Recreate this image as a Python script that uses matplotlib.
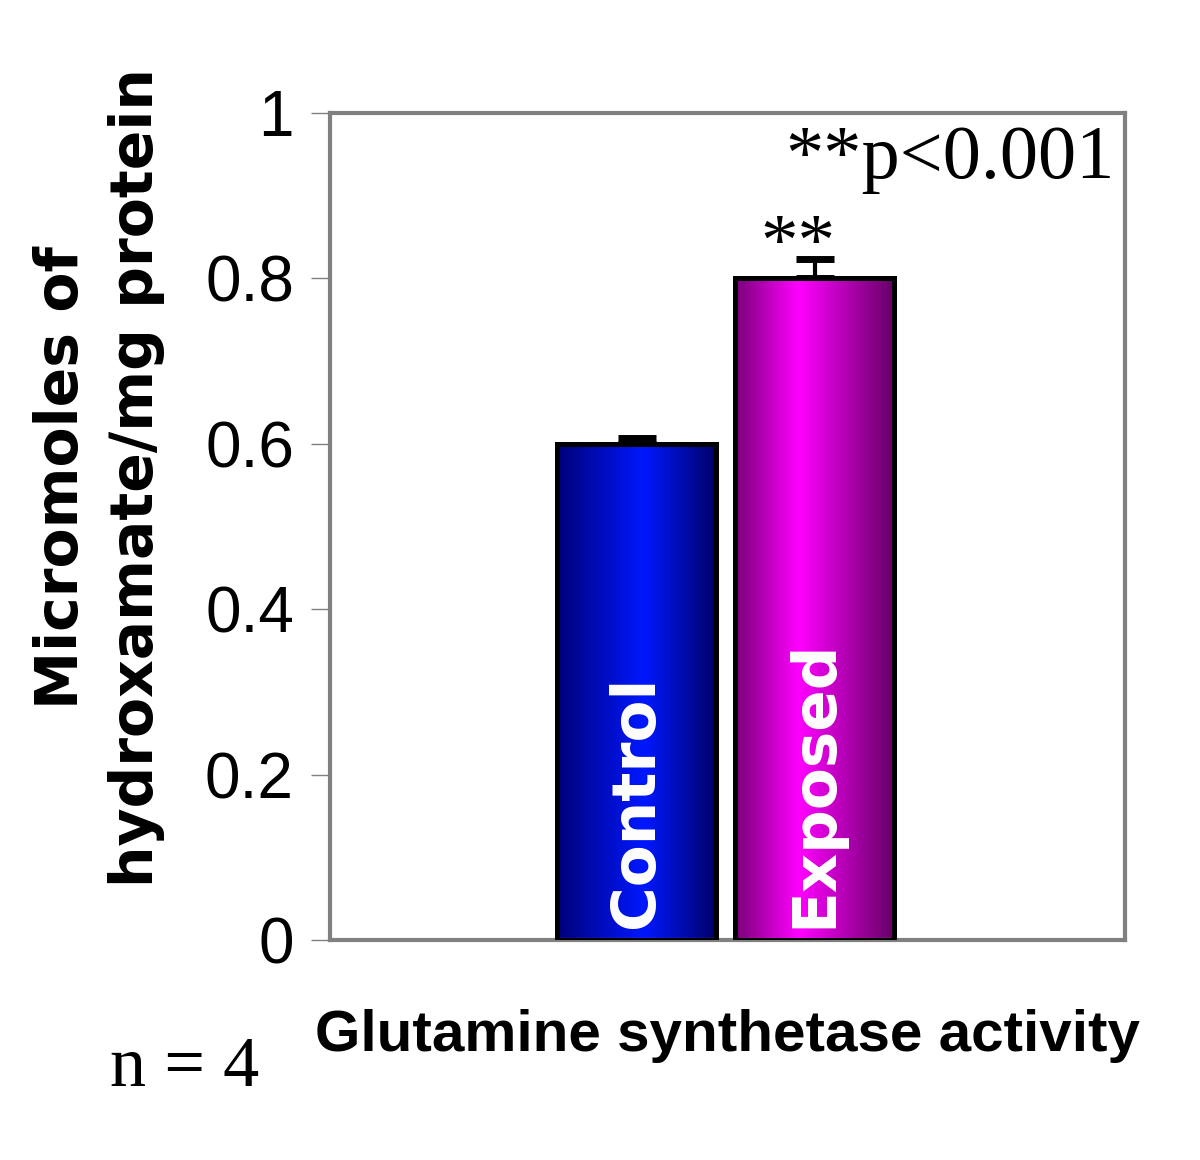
import numpy as np
import matplotlib
matplotlib.use('Agg')
import matplotlib.pyplot as plt
from matplotlib.colors import LinearSegmentedColormap

groups = ['Control', 'Exposed']
values = [0.60, 0.80]
errors = [0.007, 0.024]
yticks = [0, 0.2, 0.4, 0.6, 0.8, 1]
ytick_labels = ['0', '0.2', '0.4', '0.6', '0.8', '1']

sans = ['Liberation Sans', 'DejaVu Sans']
wide = ['DejaVu Sans']
serif = ['Liberation Serif', 'DejaVu Serif']

fig = plt.figure(figsize=(12, 11.6), dpi=100)
ax = fig.add_axes([0.275, 0.1897, 0.6625, 0.7129])

x = [0, 1.12]
bars = ax.bar(x, values, width=1.0, edgecolor='black', linewidth=3.6,
              facecolor='none', zorder=3)
ax.errorbar(x, values, yerr=[[0, 0], errors], fmt='none', ecolor='black',
            elinewidth=3, capsize=14, capthick=5, zorder=2)

# horizontal shading inside each bar
cmaps = [
    LinearSegmentedColormap.from_list('c', [(0, '#000078'), (0.55, '#0018ff'), (1, '#000068')]),
    LinearSegmentedColormap.from_list('e', [(0, '#780078'), (0.4, '#ff00ff'), (1, '#660066')]),
]
grad = np.linspace(0, 1, 256).reshape(1, -1)
for bar, cm in zip(bars, cmaps):
    x0, y0 = bar.get_x(), bar.get_y()
    w, h = bar.get_width(), bar.get_height()
    im = ax.imshow(grad, cmap=cm, extent=[x0, x0 + w, y0, y0 + h],
                   aspect='auto', zorder=2.5)
    im.set_clip_path(bar)

for xi, g in zip(x, groups):
    ax.text(xi, 0.014, g, rotation=90, ha='center', va='bottom', color='white',
            fontsize=44, fontweight='bold', family=wide, zorder=4)

ax.set_xlim(-1.93, 3.07)
ax.set_ylim(0, 1)
ax.set_xticks([])
ax.set_yticks(yticks)
ax.set_yticklabels(ytick_labels, family=sans, fontsize=46)
ax.tick_params(axis='y', direction='out', length=14, width=1, color='#808080', pad=12)

for s in ax.spines.values():
    s.set_color('#808080')
    s.set_linewidth(3)

ax.text(0.987, 0.985, '**p<0.001', transform=ax.transAxes, ha='right', va='top',
        fontsize=55, family=serif)
ax.text(x[1] - 0.11, 0.838, '**', ha='center', va='center',
        fontsize=54, family=serif)

ax.set_ylabel('Micromoles of\nhydroxamate/mg protein', fontsize=42,
              fontweight='bold', family=wide, linespacing=1.4)
ax.yaxis.set_label_coords(-0.207, 0.559)
ax.set_xlabel('Glutamine synthetase activity', fontsize=42, fontweight='bold',
              family=sans, labelpad=50)

fig.text(0.154, 0.079, 'n = 4', ha='center', va='center', fontsize=52, family=serif)

fig.savefig('out.png', dpi=100)
